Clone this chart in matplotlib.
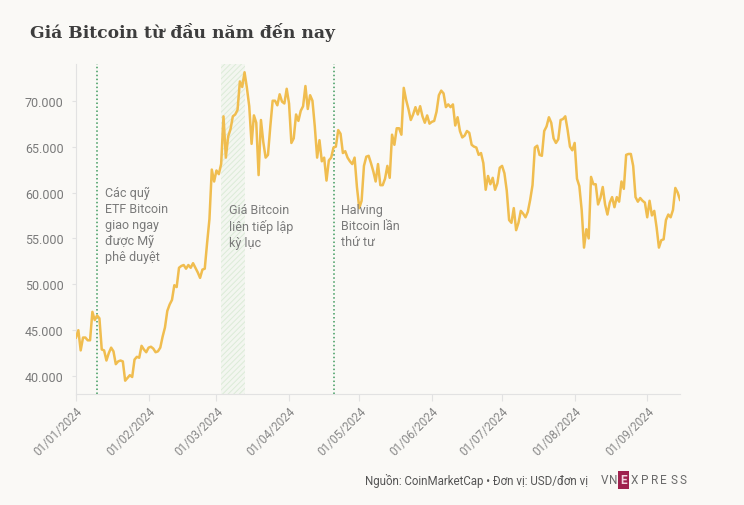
import matplotlib
matplotlib.use("Agg")
import matplotlib.pyplot as plt
import matplotlib.dates as mdates
from matplotlib.patches import Rectangle
import pandas as pd

# giá đóng cửa hằng ngày (USD)
jan = [44200, 45000, 42800, 44200, 44200, 43900, 43900, 47000, 46100, 46600,
       46300, 42900, 42800, 41700, 42500, 43100, 42700, 41300, 41600, 41700,
       41600, 39500, 39800, 40100, 39900, 41800, 42100, 42000, 43300, 42900, 42600]
feb = [43100, 43200, 43000, 42600, 42700, 43100, 44300, 45300, 47100, 47800,
       48300, 49900, 49700, 51800, 52000, 52100, 51700, 52100, 51800, 52300,
       51800, 51300, 50700, 51600, 51700, 54500, 57100, 62500, 61200]
mar = [62400, 62000, 63100, 68300, 63800, 66100, 66900, 68300, 68500, 69000,
       72100, 71500, 73100, 71400, 69400, 65300, 68400, 67600, 61900, 67900,
       65500, 63800, 64100, 67200, 70000, 70000, 69500, 70700, 69900, 69700, 71300]
apr = [69700, 65400, 65900, 68500, 67800, 68900, 69400, 71600, 69100, 70600,
       70000, 67200, 63800, 65700, 63400, 63800, 61300, 63500, 63800, 64900,
       65000, 66800, 66400, 64300, 64500, 63800, 63400, 63100, 63800, 60600]
may = [58300, 59100, 62900, 63900, 64000, 63200, 62300, 61200, 63100, 60800,
       60800, 61500, 62900, 61600, 66300, 65200, 67000, 67000, 66300, 71400,
       70100, 69100, 67900, 68500, 69300, 68500, 69400, 68300, 67600, 68400, 67500]
jun = [67700, 67800, 68800, 70600, 71100, 70800, 69300, 69600, 69300, 69600,
       67300, 68200, 66700, 66000, 66200, 66700, 66500, 65200, 65000, 64900,
       64100, 64300, 63200, 60300, 61800, 60900, 61600, 60300, 61000, 62700]
jul = [62900, 62100, 60200, 57000, 56700, 58300, 55900, 56700, 58000, 57700,
       57300, 57900, 59200, 60800, 64900, 65100, 64100, 64000, 66700, 67200,
       68200, 67600, 65900, 65400, 65800, 67900, 68000, 68300, 66800, 65000, 64600]
aug = [65400, 61500, 60700, 58100, 54000, 56000, 55000, 61700, 60900, 60900,
       58700, 59400, 60600, 58700, 57600, 58900, 59500, 58400, 59500, 59000,
       61200, 60400, 64100, 64200, 64200, 62900, 59500, 59000, 59400, 59100, 58900]
sep = [57300, 59100, 57500, 58000, 56200, 54000, 54800, 54900, 57000, 57600,
       57300, 58100, 60500, 60000, 59200]

prices = jan + feb + mar + apr + may + jun + jul + aug + sep
dates = pd.date_range("2024-01-01", periods=len(prices), freq="D")

etf_date = pd.Timestamp("2024-01-10")
halving_date = pd.Timestamp("2024-04-20")
record_start = pd.Timestamp("2024-03-03")
record_end = pd.Timestamp("2024-03-13")

etf_text = "Các quỹ\nETF Bitcoin\ngiao ngay\nđược Mỹ\nphê duyệt"
record_text = "Giá Bitcoin\nliên tiếp lập\nkỳ lục"
halving_text = "Halving\nBitcoin lần\nthứ tư"

bg = "#faf9f6"
line_color = "#f0bd4f"
green = "#3f9a5e"
gray = "#7a7a7a"

plt.rcParams["font.family"] = ["Roboto", "DejaVu Sans"]
plt.rcParams["hatch.linewidth"] = 0.7
plt.rcParams["hatch.color"] = "#dcebd8"

fig = plt.figure(figsize=(7.44, 5.06), dpi=100, facecolor=bg)
ax = fig.add_axes([76 / 744, 1 - 395 / 506, 604 / 744, 330 / 506], facecolor=bg)

# vùng kỷ lục
ax.axvspan(record_start, record_end, facecolor="#f3f6f0", edgecolor="#dcebd8",
           hatch="//////", linewidth=0, zorder=1)
ax.axvline(etf_date, color=green, linestyle=(0, (1, 1.6)), linewidth=1.1, zorder=2)
ax.axvline(halving_date, color=green, linestyle=(0, (1, 1.6)), linewidth=1.1, zorder=2)

ax.plot(dates, prices, color=line_color, linewidth=1.8, solid_joinstyle="round", zorder=3)

ax.set_xlim(pd.Timestamp("2024-01-01"), pd.Timestamp("2024-09-15"))
ax.set_ylim(38050, 74000)
ax.set_yticks([40000, 45000, 50000, 55000, 60000, 65000, 70000])
ax.yaxis.set_major_formatter(plt.FuncFormatter(lambda v, p: f"{int(v):,}".replace(",", ".")))
ax.xaxis.set_major_locator(mdates.MonthLocator())
ax.xaxis.set_major_formatter(mdates.DateFormatter("%d/%m/%Y"))

for s in ["top", "right"]:
    ax.spines[s].set_visible(False)
for s in ["left", "bottom"]:
    ax.spines[s].set_color("#e2e2e2")
    ax.spines[s].set_linewidth(0.8)

ax.tick_params(axis="y", colors="#e2e2e2", labelcolor=gray, labelsize=9, length=3, pad=6)
ax.tick_params(axis="x", colors="#e2e2e2", labelcolor="#888888", labelsize=8.5, length=5, pad=2)
for lbl in ax.get_xticklabels():
    lbl.set_rotation(45)
    lbl.set_ha("right")
    lbl.set_rotation_mode("anchor")

# chú thích
kw = dict(textcoords="offset points", xytext=(5.5, 0), ha="left", va="top",
          fontsize=9, color=gray, linespacing=1.3, annotation_clip=False)
ax.annotate(etf_text, xy=(etf_date, 60700), **kw)
ax.annotate(record_text, xy=(record_start, 58900), **kw)
ax.annotate(halving_text, xy=(halving_date, 58900), **kw)

fig.text(30 / 744, 1 - 33 / 506, "Giá Bitcoin từ đầu năm đến nay", family="DejaVu Serif",
         fontweight="bold", fontsize=12.3, color="#3d3d3d", va="center", ha="left")

fig.text(588 / 744, 1 - 481 / 506, "Nguồn: CoinMarketCap • Đơn vị: USD/đơn vị",
         fontsize=8.3, color="#555555", ha="right", va="center")

# logo
logo_y = 1 - 481 / 506
for i, ch in enumerate("VN"):
    fig.text((601 + i * 8.5) / 744, logo_y, ch, fontsize=8.5, color="#6a6a6a",
             ha="left", va="center")
fig.patches.append(Rectangle((618 / 744, 1 - 490 / 506), 11 / 744, 18 / 506,
                             transform=fig.transFigure, facecolor="#9f224e",
                             edgecolor="none"))
fig.text(623.5 / 744, logo_y, "E", fontsize=8.5, color="#f3d6e0", ha="center",
         va="center", fontweight="bold")
for i, ch in enumerate("XPRESS"):
    fig.text((631 + i * 9.8) / 744, logo_y, ch, fontsize=8.5, color="#6a6a6a",
             ha="left", va="center")

fig.savefig("out.png", dpi=100, facecolor=bg)
